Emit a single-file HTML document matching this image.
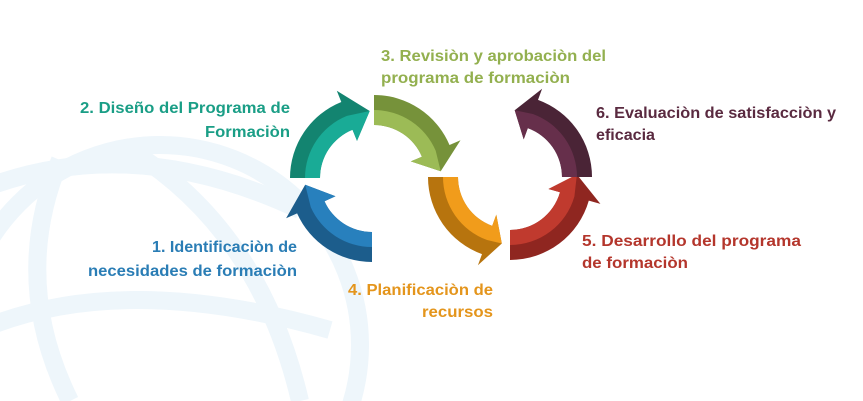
<!DOCTYPE html>
<html><head><meta charset="utf-8"><style>
html,body{margin:0;padding:0;background:#fff;width:863px;height:401px;overflow:hidden}
svg{display:block;position:absolute;left:0;top:0}
text{font-family:"Liberation Sans",sans-serif;font-weight:bold;font-size:16px}
</style></head><body>
<svg id="s" width="863" height="401" viewBox="0 0 863 401" xmlns="http://www.w3.org/2000/svg">
<g fill="none" stroke="#eef6fb" stroke-width="18">
<circle cx="160" cy="345" r="200"/>
<path d="M-20 190 Q130 130 300 210"/>
<path d="M-20 330 Q120 270 330 330"/>
<path d="M60 160 Q10 280 70 401"/>
<path d="M130 150 Q260 230 300 401"/>
</g>
<g id="arrows"></g>
<text x="290" y="113" fill="#1a9e86" text-anchor="end" textLength="210" lengthAdjust="spacingAndGlyphs">2. Diseño del Programa de</text>
<text x="290" y="137" fill="#1a9e86" text-anchor="end" textLength="85" lengthAdjust="spacingAndGlyphs">Formaciòn</text>
<text x="297" y="252" fill="#2a7db5" text-anchor="end" textLength="145" lengthAdjust="spacingAndGlyphs">1. Identificaciòn de</text>
<text x="297" y="276" fill="#2a7db5" text-anchor="end" textLength="209" lengthAdjust="spacingAndGlyphs">necesidades de formaciòn</text>
<text x="381" y="61" fill="#93b04f" textLength="225" lengthAdjust="spacingAndGlyphs">3. Revisiòn y aprobaciòn del</text>
<text x="381" y="83" fill="#93b04f" textLength="189" lengthAdjust="spacingAndGlyphs">programa de formaciòn</text>
<text x="596" y="118" fill="#5a2a40" textLength="240" lengthAdjust="spacingAndGlyphs">6. Evaluaciòn de satisfacciòn y</text>
<text x="596" y="140" fill="#5a2a40" textLength="59" lengthAdjust="spacingAndGlyphs">eficacia</text>
<text x="582" y="246" fill="#b4362c" textLength="219" lengthAdjust="spacingAndGlyphs">5. Desarrollo del programa</text>
<text x="582" y="268" fill="#b4362c" textLength="106" lengthAdjust="spacingAndGlyphs">de formaciòn</text>
<text x="493" y="295" fill="#e4951c" text-anchor="end" textLength="145" lengthAdjust="spacingAndGlyphs">4. Planificaciòn de</text>
<text x="493" y="317" fill="#e4951c" text-anchor="end" textLength="71" lengthAdjust="spacingAndGlyphs">recursos</text>
</svg>
<script>
function P(cx,cy,r,a){a=a*Math.PI/180;return (cx+r*Math.cos(a)).toFixed(1)+" "+(cy+r*Math.sin(a)).toFixed(1);}
function two(cx,cy,a0,ab,at,dark,light){
 var ri=52,ro=82,rm=67,h='',sw=(ab>a0)?1:0;
 h+='<path fill="'+dark+'" d="M'+P(cx,cy,ro,a0)+' A'+ro+' '+ro+' 0 0 '+sw+' '+P(cx,cy,ro,ab)+
 ' L'+P(cx,cy,94,ab)+' L'+P(cx,cy,rm,at)+' L'+P(cx,cy,40,ab)+' L'+P(cx,cy,ri,ab)+
 ' A'+ri+' '+ri+' 0 0 '+(1-sw)+' '+P(cx,cy,ri,a0)+' Z"/>';
 h+='<path fill="'+light+'" d="M'+P(cx,cy,rm,a0)+' A'+rm+' '+rm+' 0 0 '+sw+' '+P(cx,cy,rm,ab)+' L'+P(cx,cy,rm,at)+' L'+P(cx,cy,40,ab)+' L'+P(cx,cy,ri,ab)+' A'+ri+' '+ri+' 0 0 '+(1-sw)+' '+P(cx,cy,ri,a0)+' Z"/>';
 return h;
}
var g='';
g+=two(372,178,180,248,268,'#138470','#19ab96');
g+=two(372,180,90,156,176,'#1c5d8c','#2880bd');
g+=two(374,177,270,337,355,'#76923a','#9cbb56');
g+=two(510,177,180,110,97,'#b7740e','#f19c1b');
g+=two(510,178,90,16,-3,'#8f2620','#c03a2e');
g+=two(510,177,360,290,274,'#4a2436','#662f4b');
document.getElementById('arrows').innerHTML=g;
</script>
</body></html>
